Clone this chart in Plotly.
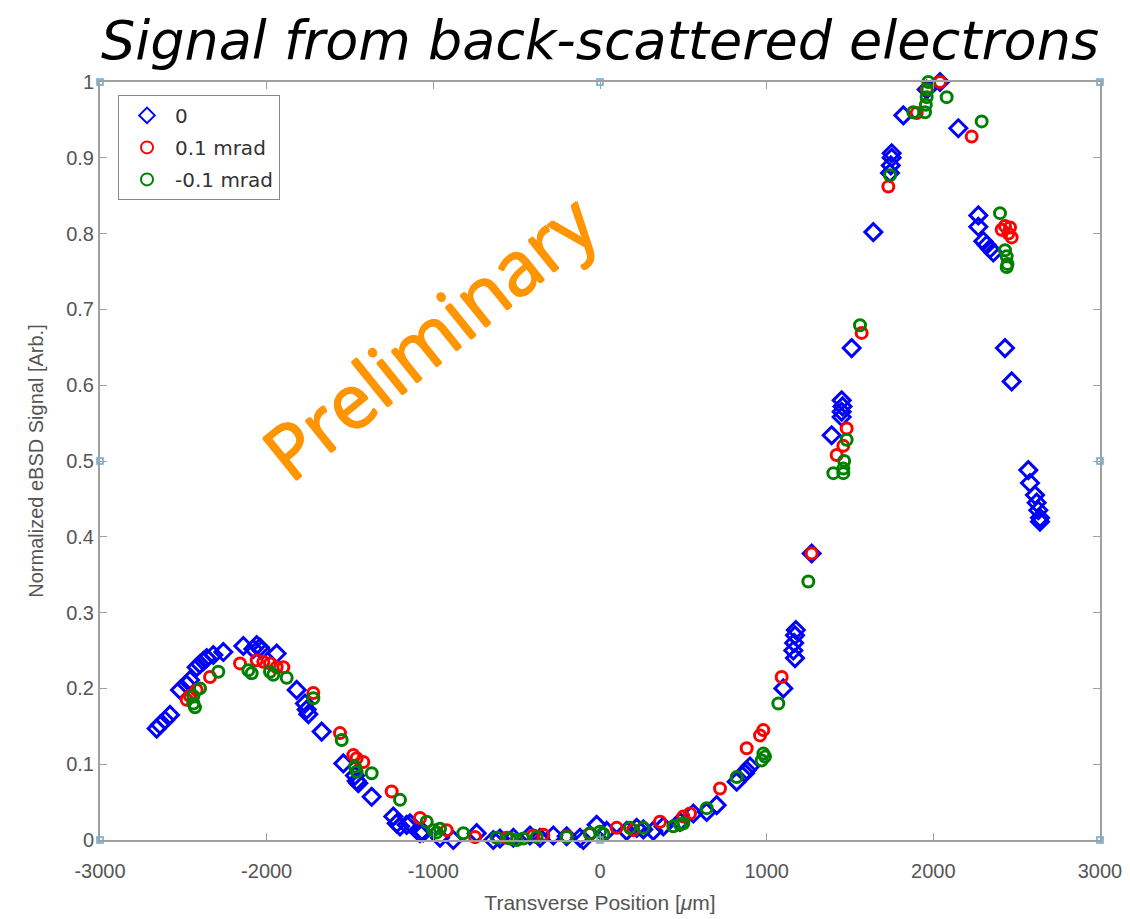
import plotly.graph_objects as go

# ---- data ----
x_0 = [-2660,-2640,-2610,-2580,-2520,-2480,-2460,-2420,-2400,-2380,-2360,-2320,-2260,-2140,-2080,-2060,-2040,-2030,
       -1940,-1820,-1770,-1760,-1750,-1670,-1540,-1470,-1460,-1450,-1370,-1240,-1220,-1200,-1160,-1140,-1080,-1060,
       -960,-880,-740,-640,-600,-520,-420,-360,-280,-200,-120,-100,-20,40,160,220,260,320,380,480,560,640,700,820,870,
       880,900,1100,1160,1165,1170,1175,1170,1270,1390,1450,1450,1455,1450,1510,1640,1740,1745,1750,1750,1820,1960,
       2040,2150,2270,2270,2300,2320,2340,2360,2430,2470,2570,2580,2610,2620,2630,2640,2640]
y_0 = [0.147,0.152,0.158,0.165,0.198,0.205,0.211,0.228,0.232,0.236,0.240,0.244,0.248,0.256,0.252,0.257,0.254,0.250,
       0.246,0.198,0.180,0.172,0.166,0.143,0.101,0.085,0.078,0.075,0.057,0.031,0.022,0.018,0.020,0.022,0.009,0.010,
       0.003,0.000,0.009,0.000,0.002,0.003,0.006,0.003,0.006,0.005,0.003,0.000,0.020,0.012,0.012,0.016,0.014,0.012,
       0.018,0.024,0.035,0.037,0.046,0.077,0.088,0.092,0.097,0.200,0.250,0.260,0.270,0.277,0.240,0.378,0.534,0.558,
       0.565,0.572,0.580,0.649,0.802,0.880,0.890,0.900,0.906,0.956,0.990,1.000,0.939,0.824,0.809,0.790,0.785,0.780,
       0.775,0.649,0.605,0.488,0.471,0.455,0.445,0.435,0.425,0.420]

x_p01 = [-2480,-2460,-2420,-2340,-2160,-2060,-2020,-1980,-1940,-1900,-1720,-1560,-1480,-1460,-1420,-1250,-1080,-920,
         -750,-560,-400,-340,-200,-60,100,200,360,500,540,720,880,960,980,1090,1270,1420,1460,1480,1570,1730,1900,
         1960,2040,2230,2410,2430,2450,2460,2470]
y_p01 = [0.185,0.190,0.198,0.215,0.233,0.237,0.235,0.233,0.228,0.228,0.194,0.141,0.112,0.108,0.103,0.064,0.029,0.013,
         0.004,0.003,0.006,0.007,0.005,0.008,0.016,0.013,0.024,0.031,0.035,0.068,0.121,0.138,0.145,0.215,0.378,0.508,
         0.520,0.543,0.669,0.862,0.959,0.990,1.000,0.928,0.805,0.810,0.800,0.808,0.795]

x_m01 = [-2440,-2440,-2430,-2400,-2290,-2110,-2090,-1980,-1960,-1880,-1720,-1550,-1470,-1460,-1370,-1200,-1040,-1000,
         -980,-960,-820,-620,-540,-500,-460,-380,-200,-60,0,20,180,260,440,480,500,640,820,970,980,990,1070,1250,1400,
         1460,1460,1465,1480,1560,1740,1880,1950,1955,1960,1965,1970,2080,2290,2400,2430,2440,2445,2440]
y_m01 = [0.190,0.180,0.175,0.200,0.222,0.224,0.220,0.222,0.218,0.214,0.187,0.132,0.097,0.090,0.088,0.053,0.024,0.013,
         0.010,0.015,0.009,0.003,0.002,0.000,0.002,0.004,0.004,0.009,0.011,0.008,0.016,0.016,0.018,0.020,0.022,0.042,
         0.083,0.105,0.114,0.110,0.180,0.341,0.484,0.484,0.490,0.500,0.528,0.679,0.877,0.960,0.960,0.970,0.980,0.990,
         1.000,0.980,0.948,0.827,0.778,0.770,0.760,0.756]

series_names = ["0", "0.1 mrad", "-0.1 mrad"]
series_colors = ["#0000ff", "#ff0000", "#008000"]

# small light-blue handle squares on the axes box
handle_x = [-3000, 0, 3000, -3000, 0, 3000, -3000, 3000]
handle_y = [0, 0, 0, 1, 1, 1, 0.5, 0.5]

x_ticks = [-3000, -2000, -1000, 0, 1000, 2000, 3000]
y_ticks = [0, 0.1, 0.2, 0.3, 0.4, 0.5, 0.6, 0.7, 0.8, 0.9, 1]
y_tick_text = ["0", "0.1", "0.2", "0.3", "0.4", "0.5", "0.6", "0.7", "0.8", "0.9", "1"]

fig = go.Figure()
symbols = ["diamond-open", "circle-open", "circle-open"]
sizes = [13, 11, 11]
for i, (xs, ys) in enumerate([(x_0, y_0), (x_p01, y_p01), (x_m01, y_m01)]):
    fig.add_trace(go.Scatter(
        x=xs, y=ys, mode="markers", name=series_names[i],
        legendgroup=series_names[i],
        marker=dict(symbol=symbols[i], size=sizes[i], color=series_colors[i],
                    line=dict(width=3, color=series_colors[i])),
        cliponaxis=False,
    ))

fig.add_trace(go.Scatter(
    x=handle_x, y=handle_y, mode="markers", showlegend=False, hoverinfo="skip",
    marker=dict(symbol="square-open", size=6, color="#5fa8d8", line=dict(width=1.5, color="#5fa8d8")),
    cliponaxis=False,
))

axis_common = dict(
    showgrid=False, zeroline=False, showline=True, linecolor="#a0a0a0", linewidth=2,
    mirror="ticks", ticks="inside", ticklen=7, tickwidth=1, tickcolor="#a0a0a0",
    automargin=False,
)

fig.update_layout(
    width=1122, height=911,
    margin=dict(l=92, r=30, t=74, b=79, autoexpand=False),
    paper_bgcolor="white", plot_bgcolor="white",
    title=dict(text="<i>Signal from back-scattered electrons</i>", x=0.5276, xanchor="center",
               y=0.965, yanchor="middle", automargin=False,
               font=dict(family="DejaVu Sans, sans-serif", size=54, color="black")),
    xaxis=dict(range=[-3000, 3000], tickvals=x_ticks, ticktext=[str(v) for v in x_ticks],
               ticklabelstandoff=12,
               tickfont=dict(family="Liberation Sans, Arial, sans-serif", size=20, color="#555555"),
               title=dict(text="Transverse Position [<i>μ</i>m]", standoff=14,
                          font=dict(family="Liberation Sans, Arial, sans-serif", size=21, color="#555555")),
               **axis_common),
    yaxis=dict(range=[0, 1], tickvals=y_ticks, ticktext=y_tick_text,
               ticklabelstandoff=0,
               tickfont=dict(family="Liberation Sans, Arial, sans-serif", size=20, color="#555555"),
               title=dict(text="Normalized eBSD Signal [Arb.]", standoff=17,
                          font=dict(family="Liberation Sans, Arial, sans-serif", size=20, color="#555555")),
               **axis_common),
    legend=dict(x=0.018, y=0.983, xanchor="left", yanchor="top",
                bgcolor="white", bordercolor="#888888", borderwidth=1,
                font=dict(family="DejaVu Sans, sans-serif", size=20, color="#333333"),
                traceorder="grouped", tracegroupgap=3, itemsizing="constant", itemwidth=46),
    showlegend=True,
)

fig.add_annotation(
    text="Preliminary", x=-1030, y=0.665, xref="x", yref="y", showarrow=False,
    textangle=-39,
    font=dict(family="Open Sans, sans-serif", size=75, color="#ff9500", weight=400,
              shadow="1px 0px 0px #ff9500, -1px 0px 0px #ff9500, 0px 1px 0px #ff9500, 0px -1px 0px #ff9500"),
)

fig.write_html("out.html")
